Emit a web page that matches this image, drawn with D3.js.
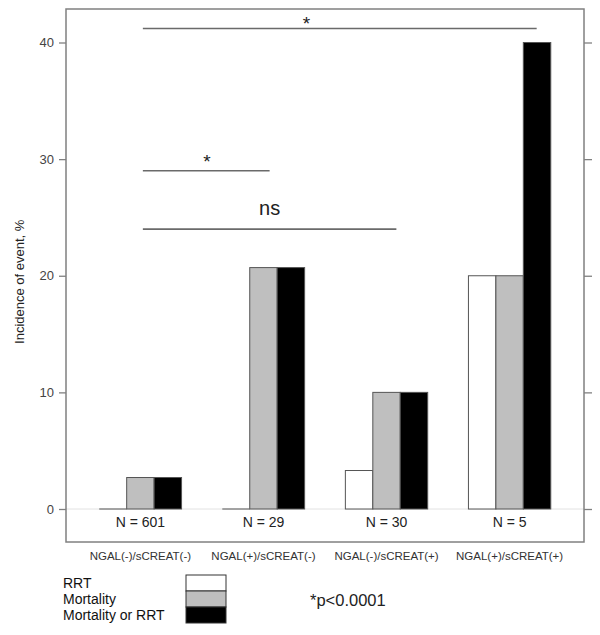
<!DOCTYPE html>
<html>
<head>
<meta charset="utf-8">
<script src="https://cdn.jsdelivr.net/npm/d3@7"></script>
<style>
  html, body { margin: 0; padding: 0; background: #fff; }
  svg { display: block; }
  text { font-family: "Liberation Sans", Arial, sans-serif; }
</style>
</head>
<body>
<svg id="chart" width="600" height="635"></svg>
<script>
// ---- data ----
const categories = ["NGAL(-)/sCREAT(-)", "NGAL(+)/sCREAT(-)", "NGAL(-)/sCREAT(+)", "NGAL(+)/sCREAT(+)"];
const nLabels = ["N = 601", "N = 29", "N = 30", "N = 5"];
const seriesNames = ["RRT", "Mortality", "Mortality or RRT"];
const rrt = [0, 0, 3.3, 20];
const mortality = [2.7, 20.7, 10, 20];
const mortalityOrRrt = [2.7, 20.7, 10, 40];
const yTicks = [0, 10, 20, 30, 40];
const seriesColors = ["#ffffff", "#bfbfbf", "#000000"];
// significance brackets (x in group-index units, y in % units)
const brackets = [
  { x1: 0.02, x2: 3.22, y: 41.2, label: "*", lx: 1.35, ly: 42.2 },
  { x1: 0.02, x2: 1.05, y: 29.0, label: "*", lx: 0.54, ly: 30.4 },
  { x1: 0.02, x2: 2.08, y: 24.0, label: "ns", lx: 1.05, ly: 25.8 }
];
const pNote = "*p<0.0001";
const yTitle = "Incidence of event, %";

// ---- layout ----
const svg = d3.select("#chart");
const box = { left: 66, right: 584, top: 9, bottom: 542 };
const values = [rrt, mortality, mortalityOrRrt];

const y = d3.scaleLinear().domain([0, 40]).range([509, 42.5]);
const x = d3.scaleBand().domain(categories).range([box.left, box.right])
  .paddingInner(0.331).paddingOuter(0.27);
const xs = d3.scaleBand().domain(seriesNames).range([0, x.bandwidth()]);
const xi = d3.scaleLinear().domain([0, 1])
  .range([x(categories[0]) + x.bandwidth() / 2, x(categories[1]) + x.bandwidth() / 2]);

// faint zero line
svg.append("line")
  .attr("x1", box.left).attr("x2", box.right)
  .attr("y1", y(0)).attr("y2", y(0))
  .attr("stroke", "#e2e2e2").attr("stroke-width", 1);

// bars
const groups = svg.selectAll("g.grp").data(categories).enter().append("g")
  .attr("class", "grp")
  .attr("transform", d => `translate(${x(d)},0)`);
groups.each(function(cat, ci) {
  const g = d3.select(this);
  seriesNames.forEach((s, si) => {
    const v = values[si][ci];
    if (v > 0) {
      g.append("rect")
        .attr("x", xs(s)).attr("width", xs.bandwidth())
        .attr("y", y(v)).attr("height", y(0) - y(v))
        .attr("fill", seriesColors[si])
        .attr("stroke", "#555").attr("stroke-width", 1);
    } else {
      g.append("line")
        .attr("x1", xs(s)).attr("x2", xs(s) + xs.bandwidth())
        .attr("y1", y(0)).attr("y2", y(0))
        .attr("stroke", "#555").attr("stroke-width", 1);
    }
  });
  g.append("text")
    .attr("x", x.bandwidth() / 2).attr("y", 527)
    .attr("text-anchor", "middle")
    .attr("font-size", 14).attr("fill", "#222")
    .text(nLabels[ci]);
});

// plot box
svg.append("rect")
  .attr("x", box.left).attr("y", box.top)
  .attr("width", box.right - box.left).attr("height", box.bottom - box.top)
  .attr("fill", "none").attr("stroke", "#808080").attr("stroke-width", 1.5);

// y axis left
const yAxisL = d3.axisLeft(y).tickValues(yTicks).tickSize(7).tickPadding(5);
const gL = svg.append("g").attr("transform", `translate(${box.left},0)`).call(yAxisL);
gL.select(".domain").remove();
gL.selectAll("line").attr("stroke", "#808080").attr("stroke-width", 1.3);
gL.selectAll("text").attr("font-size", 13).attr("fill", "#444")
  .attr("font-family", "'Liberation Sans', Arial, sans-serif");

// y axis right (ticks only)
const yAxisR = d3.axisRight(y).tickValues(yTicks).tickSize(8).tickFormat("");
const gR = svg.append("g").attr("transform", `translate(${box.right},0)`).call(yAxisR);
gR.select(".domain").remove();
gR.selectAll("line").attr("stroke", "#808080").attr("stroke-width", 1.3);

// y title
svg.append("text")
  .attr("transform", `translate(24,${(y(0) + y(40)) / 2 + 6}) rotate(-90)`)
  .attr("text-anchor", "middle")
  .attr("font-size", 13).attr("fill", "#222")
  .text(yTitle);

// category labels
svg.selectAll("text.cat").data(categories).enter().append("text")
  .attr("class", "cat")
  .attr("x", d => x(d) + x.bandwidth() / 2)
  .attr("y", 560)
  .attr("text-anchor", "middle")
  .attr("font-size", 11.5).attr("fill", "#333")
  .text(d => d);

// significance brackets
const br = svg.selectAll("g.br").data(brackets).enter().append("g").attr("class", "br");
br.append("line")
  .attr("x1", d => xi(d.x1)).attr("x2", d => xi(d.x2))
  .attr("y1", d => y(d.y)).attr("y2", d => y(d.y))
  .attr("stroke", "#6a6a6a").attr("stroke-width", 1.6);
br.append("text")
  .attr("x", d => xi(d.lx))
  .attr("y", d => y(d.ly))
  .attr("dy", d => d.label === "ns" ? "0.35em" : "0.7em")
  .attr("text-anchor", "middle")
  .attr("font-family", "'Open Sans', 'DejaVu Sans', sans-serif")
  .attr("font-size", d => d.label === "ns" ? 20 : 19)
  .attr("fill", "#222")
  .text(d => d.label);

// legend
const legTop = 575, legH = 16;
const leg = svg.append("g");
seriesNames.forEach((s, i) => {
  leg.append("rect")
    .attr("x", 186).attr("y", legTop + i * legH)
    .attr("width", 40).attr("height", legH)
    .attr("fill", seriesColors[i])
    .attr("stroke", "#333").attr("stroke-width", 1);
  leg.append("text")
    .attr("x", 63).attr("y", legTop + i * legH + legH / 2)
    .attr("dy", "0.36em")
    .attr("font-size", 14).attr("fill", "#111")
    .text(s);
});

// p note
svg.append("text")
  .attr("x", 310).attr("y", 600).attr("dy", "0.36em")
  .attr("font-size", 16.5).attr("fill", "#222")
  .text(pNote);
</script>
</body>
</html>
